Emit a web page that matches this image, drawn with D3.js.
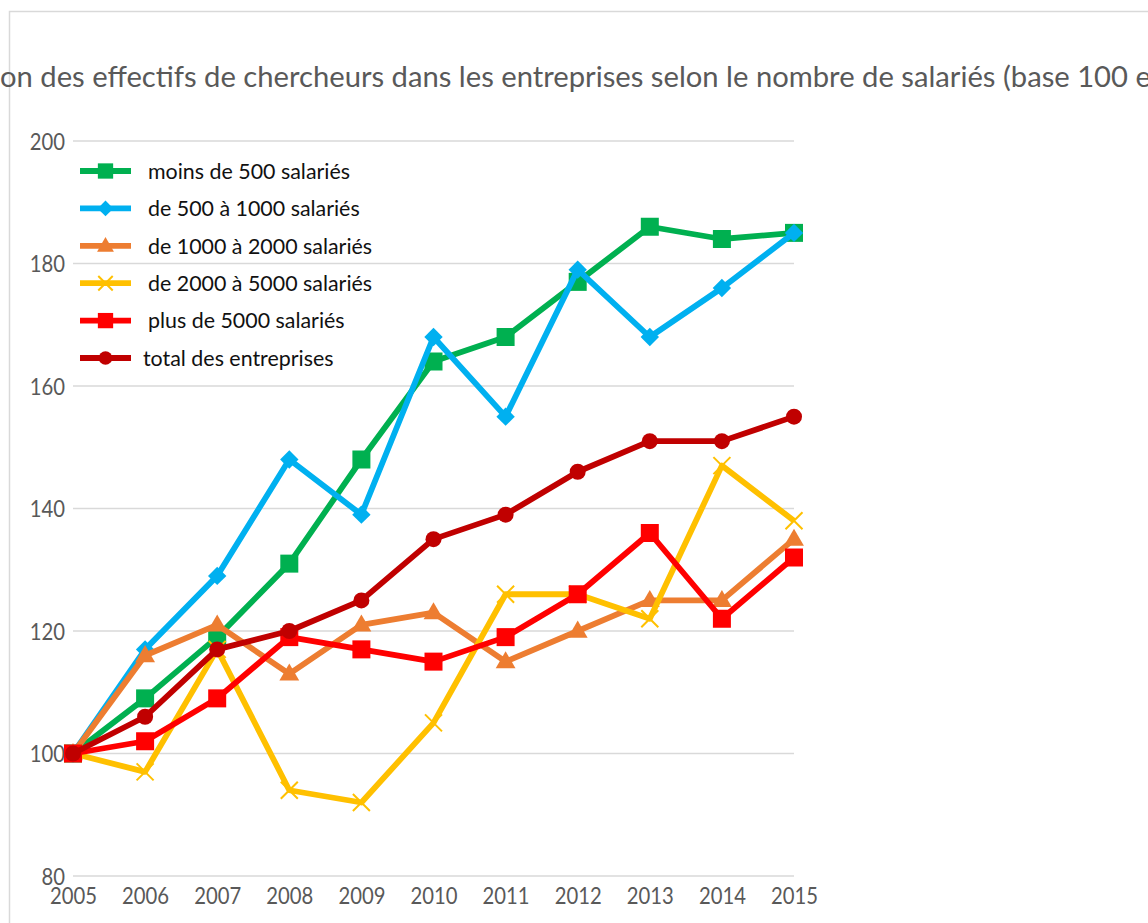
<!DOCTYPE html>
<html lang="fr">
<head>
<meta charset="UTF-8">
<title>Effectifs de chercheurs</title>
<style>
body { margin: 0; background: #fff; }
svg { display: block; }
text { font-family: Lato, 'Open Sans', sans-serif; }
</style>
</head>
<body>
<svg width="1148" height="923"></svg>
<script src="https://d3js.org/d3.v7.min.js"></script>
<script>

var titleText = "Évolution des effectifs de chercheurs dans les entreprises selon le nombre de salariés (base 100 en 2005)";
var years = [2005, 2006, 2007, 2008, 2009, 2010, 2011, 2012, 2013, 2014, 2015];
var yTicks = [80, 100, 120, 140, 160, 180, 200];

var seriesNames = ["moins de 500 salariés", "de 500 à 1000 salariés", "de 1000 à 2000 salariés",
    "de 2000 à 5000 salariés", "plus de 5000 salariés", "total des entreprises"];
var moins500 = [100, 109, 119, 131, 148, 164, 168, 177, 186, 184, 185];
var de500a1000 = [100, 117, 129, 148, 139, 168, 155, 179, 168, 176, 185];
var de1000a2000 = [100, 116, 121, 113, 121, 123, 115, 120, 125, 125, 135];
var de2000a5000 = [100, 97, 117, 94, 92, 105, 126, 126, 122, 147, 138];
var plus5000 = [100, 102, 109, 119, 117, 115, 119, 126, 136, 122, 132];
var total = [100, 106, 117, 120, 125, 135, 139, 146, 151, 151, 155];

var seriesValues = [moins500, de500a1000, de1000a2000, de2000a5000, plus5000, total];
var colors = ["#00b050", "#00b0f0", "#ed7d31", "#ffc000", "#ff0000", "#c00000"];
var markers = ["square", "diamond", "triangle", "cross", "square", "circle"];

var svg = d3.select("svg");

// outer chart frame (only top and left edges visible in the crop)
svg.append("path")
    .attr("d", "M9.5,923 V11.5 H1148")
    .attr("fill", "none")
    .attr("stroke", "#d9d9d9")
    .attr("stroke-width", 1.5);

// squeeze a text horizontally so it fits a target width
var fitWidth = function(sel, k) {
    sel.each(function() {
        var w = this.getComputedTextLength();
        d3.select(this).attr("textLength", w * k).attr("lengthAdjust", "spacingAndGlyphs");
    });
};

// title, clipped on both sides like the original
var title = svg.append("text")
    .attr("y", 87)
    .attr("fill", "#595959")
    .style("font-size", "29px")
    .text(titleText);
var probe = svg.append("text").style("font-size", "29px").text("Évoluti");
var lead = probe.node().getComputedTextLength();
probe.text("on des effectifs de chercheurs dans les entreprises selon le nombre de salariés (base 100 ");
var body = probe.node().getComputedTextLength();
probe.remove();
var titleK = 1128 / body;
var fullW = title.node().getComputedTextLength();
title.attr("x", -lead * titleK)
    .attr("textLength", fullW * titleK)
    .attr("lengthAdjust", "spacingAndGlyphs");

var x = d3.scalePoint().domain(years).range([73, 794]);
var y = d3.scaleLinear().domain([80, 200]).range([876, 141]);

// gridlines
svg.append("g")
    .selectAll("line")
    .data(yTicks)
    .join("line")
    .attr("x1", 73)
    .attr("x2", 794)
    .attr("y1", function(d) { return y(d); })
    .attr("y2", function(d) { return y(d); })
    .attr("stroke", "#d9d9d9")
    .attr("stroke-width", 1.5);

var yAxis = d3.axisLeft(y).tickValues(yTicks).tickSize(0).tickPadding(8);
var yG = svg.append("g").attr("transform", "translate(73,0)").call(yAxis);
yG.select(".domain").remove();
yG.selectAll("text")
    .attr("fill", "#595959")
    .style("font-size", "23px")
    .attr("dy", "0.35em");

var xAxis = d3.axisBottom(x).tickSize(0).tickPadding(12);
var xG = svg.append("g").attr("transform", "translate(0,876)").call(xAxis);
xG.select(".domain").remove();
xG.selectAll("text")
    .attr("fill", "#595959")
    .style("font-size", "23px");

var tickK = 47 / xG.select("text").node().getComputedTextLength();
fitWidth(xG.selectAll("text"), tickK);
fitWidth(yG.selectAll("text"), tickK);

var drawMarker = function(g, type, color, scale) {
    scale = scale || 1;
    if (type === "square") {
        g.append("rect")
            .attr("x", -9 * scale).attr("y", -9 * scale)
            .attr("width", 18 * scale).attr("height", 18 * scale)
            .attr("fill", color);
    } else if (type === "diamond") {
        g.append("rect")
            .attr("x", -6.5 * scale).attr("y", -6.5 * scale)
            .attr("width", 13 * scale).attr("height", 13 * scale)
            .attr("transform", "rotate(45)")
            .attr("fill", color);
    } else if (type === "triangle") {
        g.append("path")
            .attr("d", d3.symbol(d3.symbolTriangle, 170 * scale * scale)())
            .attr("transform", "translate(0,1)")
            .attr("fill", color);
    } else if (type === "cross") {
        var s = 8.5 * scale;
        g.append("path")
            .attr("d", "M" + (-s) + "," + (-s) + "L" + s + "," + s + "M" + (-s) + "," + s + "L" + s + "," + (-s))
            .attr("stroke", color)
            .attr("stroke-width", 2);
    } else {
        g.append("circle").attr("r", 8 * scale).attr("fill", color);
    }
};

var line = d3.line()
    .x(function(d, i) { return x(years[i]); })
    .y(function(d) { return y(d); });

seriesValues.forEach(function(vals, s) {
    var g = svg.append("g").attr("class", "series");
    g.append("path")
        .attr("d", line(vals))
        .attr("fill", "none")
        .attr("stroke", colors[s])
        .attr("stroke-width", 5.8)
        .attr("stroke-linejoin", "round");
    vals.forEach(function(v, i) {
        var m = g.append("g").attr("transform", "translate(" + x(years[i]) + "," + y(v) + ")");
        drawMarker(m, markers[s], colors[s]);
    });
});

// legend
var legendTop = 171;
var legendStep = 37.4;
var legend = svg.append("g");
seriesNames.forEach(function(name, s) {
    var row = legend.append("g").attr("transform", "translate(0," + (legendTop + s * legendStep) + ")");
    row.append("line")
        .attr("x1", 80).attr("x2", 131)
        .attr("stroke", colors[s])
        .attr("stroke-width", 5.8);
    var m = row.append("g").attr("transform", "translate(105.5,0)");
    drawMarker(m, markers[s], colors[s], 0.85);
    row.append("text")
        .attr("class", "legend-label")
        .attr("x", s === 5 ? 143 : 148)
        .attr("dy", "0.35em")
        .attr("fill", "#111")
        .style("font-size", "22px")
        .text(name);
});
var legendK = 202 / legend.select(".legend-label").node().getComputedTextLength();
fitWidth(legend.selectAll(".legend-label"), legendK);

</script>
</body>
</html>
